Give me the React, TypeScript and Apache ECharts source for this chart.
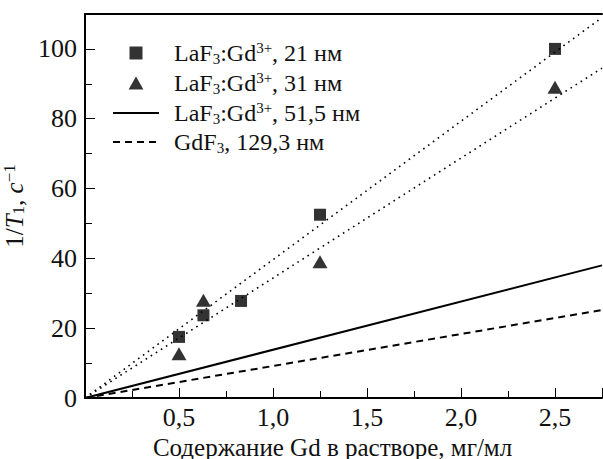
import React, { useEffect, useRef } from "react";
import * as echarts from "echarts";

const FONT = "Liberation Serif";

// LaF3:Gd3+, 21 nm (squares)
const x21 = [0.5, 0.63, 0.83, 1.25, 2.5];
const y21 = [17.5, 23.7, 27.8, 52.5, 100];
// LaF3:Gd3+, 31 nm (triangles)
const x31 = [0.5, 0.63, 1.25, 2.5];
const y31 = [12.7, 28, 39, 89];
// straight lines: start / end points
const fitX = [0, 2.75];
const fit21Y = [0, 109];
const fit31Y = [0, 94.5];
const line51Y = [0, 38];
const gdfY = [0, 25.2];

const xTicks = [0.5, 1.0, 1.5, 2.0, 2.5];
const yTicks = [0, 20, 40, 60, 80, 100];

const legendText: Record<string, string> = {
  s21: "{r|LaF}{sb|3}{r|:Gd}{sp|3+}{r|, 21 нм}",
  s31: "{r|LaF}{sb|3}{r|:Gd}{sp|3+}{r|, 31 нм}",
  s51: "{r|LaF}{sb|3}{r|:Gd}{sp|3+}{r|, 51,5 нм}",
  gdf: "{r|GdF}{sb|3}{r|, 129,3 нм}",
};

const zip = (xs: number[], ys: number[]) => xs.map((x, i) => [x, ys[i]]);

export default function App() {
  const ref = useRef<HTMLDivElement>(null);
  useEffect(() => {
    const chart = echarts.init(ref.current!, null, { renderer: "svg" });
    const rich = {
      r: { fontSize: 24, lineHeight: 26, fontFamily: FONT, color: "#111" },
      sb: { fontSize: 15, lineHeight: 14, verticalAlign: "bottom", fontFamily: FONT, color: "#111" },
      sp: { fontSize: 15, lineHeight: 14, verticalAlign: "top", fontFamily: FONT, color: "#111" },
    };
    chart.setOption({
      animation: false,
      backgroundColor: "#fff",
      grid: { left: 85, top: 14, right: 1, bottom: 61, containLabel: false, outerBoundsMode: "none" },
      legend: {
        orient: "vertical",
        left: 107,
        top: 35,
        itemWidth: 46,
        itemHeight: 13,
        itemGap: 4,
        symbolKeepAspect: true,
        data: [
          { name: "s21", icon: "path://M0,0H10V10H0Z" },
          { name: "s31", icon: "path://M6,0L12,10.5L0,10.5Z" },
          { name: "s51", itemStyle: { opacity: 0 } },
          { name: "gdf", itemStyle: { opacity: 0 } },
        ],
        formatter: (n: string) => legendText[n],
        textStyle: { padding: [0, 0, 0, 10], rich },
      },
      xAxis: [
        {
          type: "value",
          min: 0,
          max: 2.75,
          interval: 0.5,
          name: "Содержание Gd в растворе, мг/мл",
          nameLocation: "middle",
          nameGap: 31,
          nameTextStyle: {
            fontFamily: FONT,
            fontSize: 25,
            lineHeight: 24,
            color: "#111",
            padding: [0, 22, 0, 0],
          },
          axisLine: { lineStyle: { color: "#000", width: 2 } },
          axisTick: { inside: true, length: 10, lineStyle: { color: "#000", width: 1 } },
          minorTick: { show: true, splitNumber: 2, length: 7, lineStyle: { color: "#000", width: 1 } },
          splitLine: { show: false },
          axisLabel: {
            showMinLabel: false,
            showMaxLabel: false,
            margin: 6,
            fontFamily: FONT,
            fontSize: 26,
            color: "#111",
            formatter: (v: number) =>
              xTicks.some((t) => Math.abs(t - v) < 1e-6) ? v.toFixed(1).replace(".", ",") : "",
          },
        },
        {
          type: "value",
          position: "top",
          min: 0,
          max: 2.75,
          axisLine: { show: true, lineStyle: { color: "#000", width: 2 } },
          axisTick: { show: false },
          axisLabel: { show: false },
          splitLine: { show: false },
        },
      ],
      yAxis: {
        type: "value",
        min: 0,
        max: 110,
        interval: 20,
        name: "{n|1/}{i|T}{sb|1}{n|, }{i|c}{sp|−1}",
        nameLocation: "middle",
        nameGap: 43,
        nameRotate: 90,
        nameTextStyle: {
          rich: {
            n: { fontSize: 25, lineHeight: 26, fontFamily: FONT, color: "#111" },
            i: { fontSize: 25, lineHeight: 26, fontFamily: FONT, fontStyle: "italic", color: "#111" },
            sb: { fontSize: 17, lineHeight: 14, verticalAlign: "bottom", fontFamily: FONT, color: "#111" },
            sp: { fontSize: 17, lineHeight: 14, verticalAlign: "top", fontFamily: FONT, color: "#111" },
          },
        },
        axisLine: { show: true, lineStyle: { color: "#000", width: 2 } },
        axisTick: { inside: true, length: 10, lineStyle: { color: "#000", width: 1 } },
        minorTick: { show: true, splitNumber: 2, length: 7, lineStyle: { color: "#000", width: 1 } },
        splitLine: { show: false },
        axisLabel: {
          showMaxLabel: false,
          margin: 8,
          fontFamily: FONT,
          fontSize: 26,
          color: "#111",
          formatter: (v: number) => (yTicks.includes(v) ? String(v) : ""),
        },
      },
      series: [
        { name: "fit21", type: "line", data: zip(fitX, fit21Y), symbol: "none",
          lineStyle: { color: "#000", width: 1.6, type: [1.6, 4.4] }, z: 1 },
        { name: "fit31", type: "line", data: zip(fitX, fit31Y), symbol: "none",
          lineStyle: { color: "#000", width: 1.6, type: [1.6, 4.4] }, z: 1 },
        { name: "s51", type: "line", data: zip(fitX, line51Y), symbol: "none", color: "#000",
          lineStyle: { color: "#000", width: 2 }, z: 1 },
        { name: "gdf", type: "line", data: zip(fitX, gdfY), symbol: "none", color: "#000",
          lineStyle: { color: "#000", width: 2, type: [7, 5] }, z: 1 },
        { name: "s21", type: "scatter", data: zip(x21, y21), symbol: "rect", symbolSize: 12,
          itemStyle: { color: "#000" }, z: 3 },
        { name: "s31", type: "scatter", data: zip(x31, y31), symbol: "triangle", symbolSize: [15, 13],
          itemStyle: { color: "#000" }, z: 3 },
      ],
    });
    return () => chart.dispose();
  }, []);
  return (
    <div
      ref={ref}
      style={{ position: "fixed", left: 0, top: 0, width: 603, height: 459, background: "#fff" }}
    />
  );
}
